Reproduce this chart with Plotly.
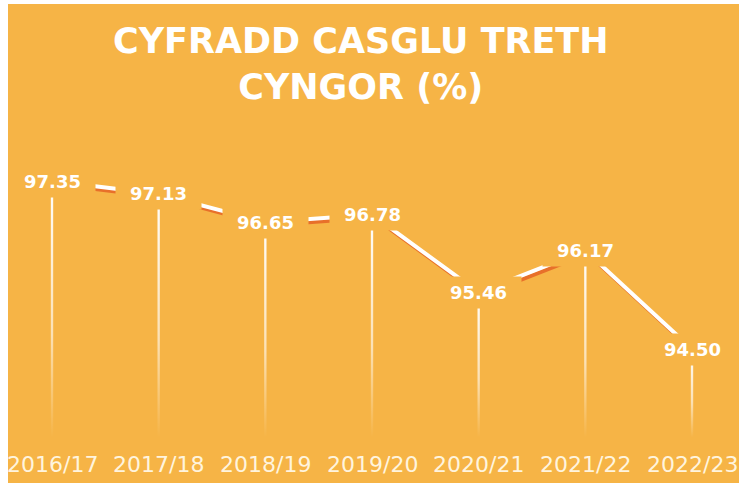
import plotly.graph_objects as go

categories = ["2016/17", "2017/18", "2018/19", "2019/20", "2020/21", "2021/22", "2022/23"]
values = [97.35, 97.13, 96.65, 96.78, 95.46, 96.17, 94.50]
title_text = "CYFRADD CASGLU TRETH<br>CYNGOR (%)"

BG = "#F6B446"
SHADOW = "#E8702A"
W, H = 739, 488
ML, MR, MT, MB = 8, 0, 4, 5
X_RANGE = [-0.4125, 6.4406]
Y_RANGE = [92.227, 100.353]
BASE = 93.0

xs = list(range(len(categories)))
fig = go.Figure()

# drop lines with vertical fade
hw = 0.011
for i, v in zip(xs, values):
    fig.add_trace(go.Scatter(
        x=[i - hw, i + hw, i + hw, i - hw, i - hw],
        y=[BASE, BASE, v, v, BASE],
        mode="lines", line=dict(width=0), fill="toself",
        fillgradient=dict(type="vertical",
                          colorscale=[[0, "rgba(255,255,255,0)"],
                                      [0.4, "rgba(255,255,255,0.6)"],
                                      [1, "rgba(255,255,255,1)"]]),
        hoverinfo="skip", showlegend=False))

# shadow line
fig.add_trace(go.Scatter(
    x=[i + 0.022 for i in xs], y=[v - 0.05 for v in values],
    mode="lines", line=dict(color=SHADOW, width=4), hoverinfo="skip", showlegend=False))
# main line
fig.add_trace(go.Scatter(
    x=xs, y=values, mode="lines", line=dict(color="white", width=4),
    hoverinfo="skip", showlegend=False))

# data labels (with background to hide the line)
for i, v in zip(xs, values):
    fig.add_annotation(x=i, y=v, xref="x", yref="y", text=f"\u2002{v:.2f}\u2002", showarrow=False,
                       font=dict(family="DejaVu Sans", size=18, color="white", weight="bold"),
                       bgcolor=BG, borderpad=5, xanchor="center", yanchor="middle")

# category labels
for i, c in zip(xs, categories):
    fig.add_annotation(x=i, y=0.0376, xref="x", yref="paper", text=c, showarrow=False,
                       font=dict(family="DejaVu Sans", size=22, color="#FFF4DE"),
                       xanchor="center", yanchor="middle")

# title
fig.add_annotation(x=(361 - ML) / (W - ML - MR), y=0.8747, xref="paper", yref="paper",
                   text=title_text, showarrow=False,
                   font=dict(family="DejaVu Sans", size=35, color="white", weight="bold"),
                   xanchor="center", yanchor="middle")

fig.update_layout(
    width=W, height=H, margin=dict(l=ML, r=MR, t=MT, b=MB),
    paper_bgcolor="white", plot_bgcolor=BG,
    xaxis=dict(range=X_RANGE, visible=False, fixedrange=True),
    yaxis=dict(range=Y_RANGE, visible=False, fixedrange=True),
    showlegend=False,
)

fig.write_html("out.html", config={"displayModeBar": False},
               post_script="document.body.style.margin='0';document.body.style.overflow='hidden';")
